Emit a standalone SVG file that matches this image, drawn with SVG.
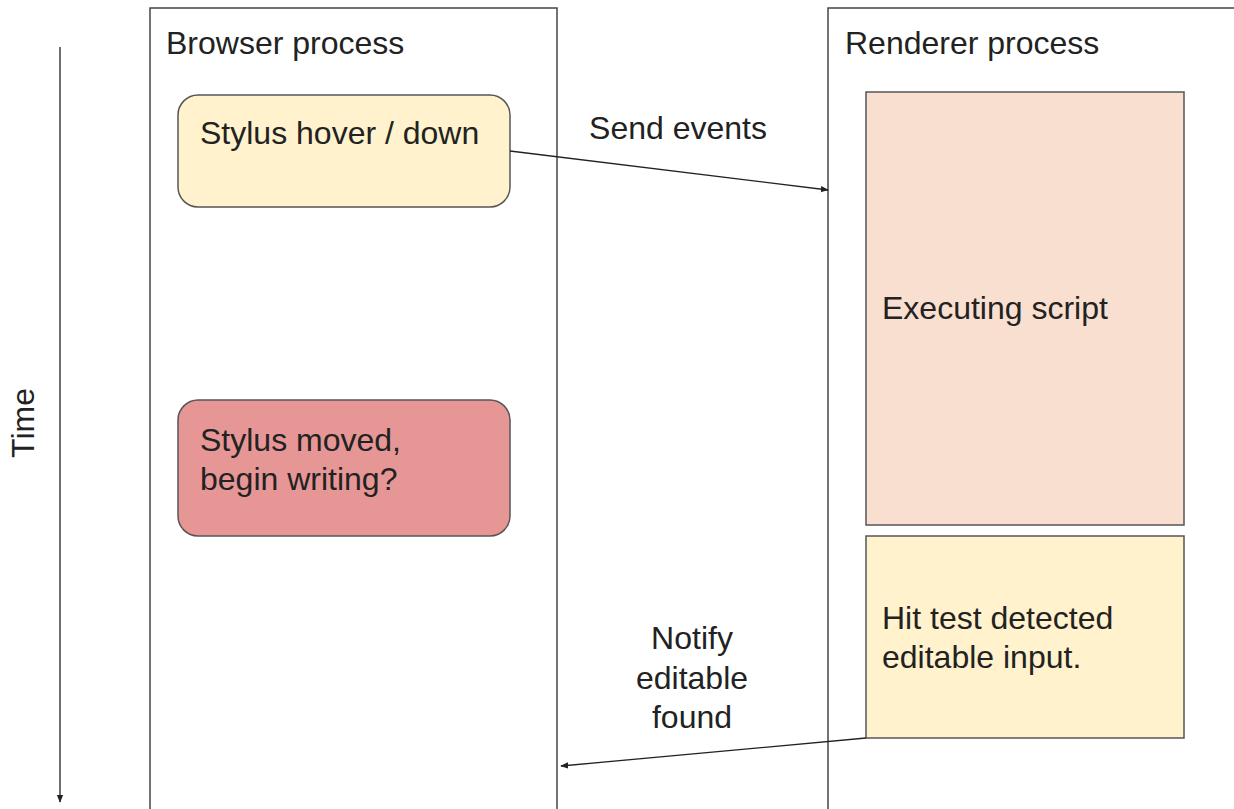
<svg xmlns="http://www.w3.org/2000/svg" width="1234" height="809" viewBox="0 0 1234 809">
<defs>
<style>
text{font-family:"Liberation Sans",Arial,sans-serif;font-size:32px;fill:#222}
.lane{fill:#fff;stroke:#444;stroke-width:1.5}
.box{stroke:#555;stroke-width:1.5}
.conn{stroke:#222;stroke-width:1.3;fill:none}
</style>
<marker id="ah" viewBox="0 0 10 10" refX="9" refY="5" markerWidth="8" markerHeight="8" markerUnits="userSpaceOnUse" orient="auto">
<path d="M0,1 L10,5 L0,9 z" fill="#222"/>
</marker>
</defs>
<rect width="1234" height="809" fill="#fff"/>
<g id="time">
<line class="conn" x1="60" y1="47" x2="60" y2="802" stroke="#555" stroke-width="1.5" marker-end="url(#ah)"/>
<text transform="translate(34,423) rotate(-90)" text-anchor="middle">Time</text>
</g>
<g id="browser">
<rect class="lane" x="150" y="8" width="407" height="820"/>
<text x="166" y="54">Browser process</text>
</g>
<g id="renderer">
<rect class="lane" x="828" y="8" width="420" height="820"/>
<text x="845" y="54">Renderer process</text>
</g>
<g id="stylus-hover">
<rect class="box" x="178" y="95" width="332" height="112" rx="20" fill="#fff2cc"/>
<text x="200" y="144">Stylus hover / down</text>
</g>
<g id="stylus-moved">
<rect class="box" x="178" y="400" width="332" height="136" rx="20" fill="#e79696"/>
<text x="200" y="451">Stylus moved,</text>
<text x="200" y="490">begin writing?</text>
</g>
<g id="executing">
<rect class="box" x="866" y="92" width="318" height="433" fill="#f9dfcf"/>
<text x="882" y="319">Executing script</text>
</g>
<g id="hit-test">
<rect class="box" x="866" y="536" width="318" height="202" fill="#fff2cc"/>
<text x="882" y="629">Hit test detected</text>
<text x="882" y="668">editable input.</text>
</g>
<g id="connectors">
<line class="conn" x1="510" y1="151" x2="828" y2="190" marker-end="url(#ah)"/>
<text x="678" y="139" text-anchor="middle">Send events</text>
<line class="conn" x1="866" y1="738" x2="561" y2="766" marker-end="url(#ah)"/>
<text x="692" y="649" text-anchor="middle">Notify</text>
<text x="692" y="689" text-anchor="middle">editable</text>
<text x="692" y="728" text-anchor="middle">found</text>
</g>
</svg>
